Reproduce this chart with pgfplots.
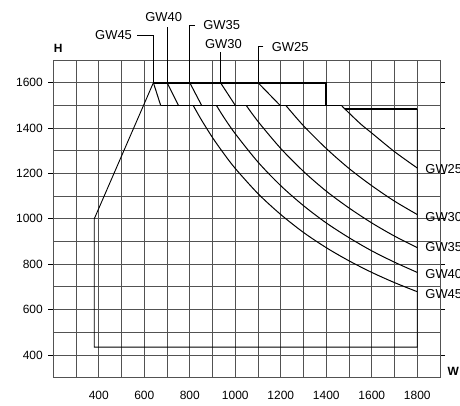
\documentclass[border=0pt]{standalone}
\usepackage{pgfplots}
\pgfplotsset{compat=1.18}
\usepackage{fontspec}
\setmainfont{Liberation Sans}
\begin{document}
\begin{tikzpicture}[x=1bp,y=1bp]
\begin{axis}[
  at={(53.3bp,27.3bp)}, anchor=south west,
  scale only axis, width=386.7bp, height=317.7bp,
  xmin=200, xmax=1900, ymin=300, ymax=1700,
  xtick={400,600,...,1800}, ytick={400,600,...,1600},
  minor xtick={300,500,700,900,1100,1300,1500,1700},
  minor ytick={500,700,900,1100,1300,1500},
  grid=both,
  major grid style={black!68, line width=0.9bp},
  minor grid style={black!68, line width=0.9bp},
  axis line style={black!68, line width=0.9bp},
  tick align=outside,
  x tick style={draw=none},
  y tick style={black, line width=0.9bp},
  major tick length=5bp, minor tick length=0pt,
  ticklabel style={font=\fontsize{12}{14}\selectfont},
  xticklabel style={yshift=-5bp},
  yticklabel style={xshift=-2bp},
  /pgf/number format/assume math mode=true,
  /pgf/number format/1000 sep={},
  clip=false,
]
% envelope
\addplot[black, line width=0.9bp] coordinates {(1800,1485) (1800,435) (380,435) (380,1000) (640,1600)};
\addplot[black, line width=1.7bp] coordinates {(640,1600) (1400,1600) (1400,1500)};
\addplot[black, line width=0.9bp] coordinates {(672,1500) (1467,1500)};
\addplot[black, line width=1.7bp] coordinates {(1481,1485) (1800,1485)};
% short segments between 1600 and 1500
\addplot[black, line width=1bp] coordinates {(640,1600) (672,1500)};
\addplot[black, line width=1bp] coordinates {(700,1600) (750,1500)};
\addplot[black, line width=1bp] coordinates {(800,1600) (852,1500)};
\addplot[black, line width=1bp] coordinates {(935,1600) (1000,1500)};
\addplot[black, line width=1bp] coordinates {(1100,1600) (1197,1500)};
% GW45
\addplot[black, line width=1bp, smooth] coordinates {(815,1500) (850,1438) (900,1358) (950,1287) (1000,1222) (1100,1111) (1200,1019) (1300,940) (1400,873) (1500,815) (1600,764) (1700,719) (1800,679)};
% GW40
\addplot[black, line width=1bp, smooth] coordinates {(917,1500) (950,1447) (1000,1375) (1100,1250) (1200,1146) (1300,1058) (1400,982) (1500,917) (1600,859) (1700,809) (1800,764)};
% GW35
\addplot[black, line width=1bp, smooth] coordinates {(1048,1500) (1100,1429) (1200,1310) (1300,1209) (1400,1122) (1500,1048) (1600,982) (1700,924) (1800,873)};
% GW30
\addplot[black, line width=1bp, smooth] coordinates {(1222,1500) (1300,1410) (1400,1310) (1500,1222) (1600,1146) (1700,1078) (1800,1019)};
% GW25
\addplot[black, line width=1bp, smooth] coordinates {(1467,1500) (1481,1485) (1550,1419) (1600,1378) (1700,1296) (1800,1224)};
% leaders
\draw[black, line width=0.9bp] (568,1810) -- (640,1810) -- (640,1600);
\draw[black, line width=0.9bp] (700,1845) -- (700,1600);
\draw[black, line width=0.9bp] (822,1854) -- (800,1854) -- (800,1600);
\draw[black, line width=0.9bp] (936,1735) -- (936,1600);
\draw[black, line width=0.9bp] (1123,1758) -- (1101,1758) -- (1101,1600);
% labels
\node[font=\fontsize{13}{15}\selectfont] at (465,1810) {GW45};
\node[font=\fontsize{13}{15}\selectfont] at (685,1889) {GW40};
\node[font=\fontsize{13}{15}\selectfont] at (940,1854) {GW35};
\node[font=\fontsize{13}{15}\selectfont] at (948,1770) {GW30};
\node[font=\fontsize{13}{15}\selectfont] at (1241,1758) {GW25};
\node[font=\fontsize{13}{15}\selectfont, anchor=west, inner sep=0pt] at (1835,1218) {GW25};
\node[font=\fontsize{13}{15}\selectfont, anchor=west, inner sep=0pt] at (1835,1007) {GW30};
\node[font=\fontsize{13}{15}\selectfont, anchor=west, inner sep=0pt] at (1835,877) {GW35};
\node[font=\fontsize{13}{15}\selectfont, anchor=west, inner sep=0pt] at (1835,757) {GW40};
\node[font=\fontsize{13}{15}\selectfont, anchor=west, inner sep=0pt] at (1835,667) {GW45};
\node[font=\bfseries\fontsize{12}{14}\selectfont] at (222,1751) {H};
\node[font=\bfseries\fontsize{12}{14}\selectfont] at (1958,330) {W};
\end{axis}
\pgfresetboundingbox
\useasboundingbox (0,0) rectangle (460,405);
\end{tikzpicture}
\end{document}
